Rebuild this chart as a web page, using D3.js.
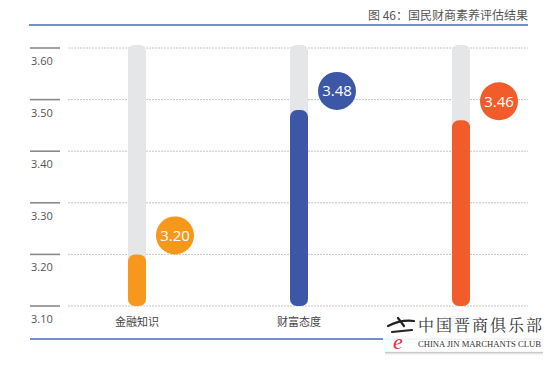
<!DOCTYPE html>
<html><head><meta charset="utf-8">
<script src="https://cdn.jsdelivr.net/npm/d3@7"></script>
<style>body{margin:0;background:#fff}svg{display:block}</style>
</head><body><svg id="c" width="553" height="366"></svg>
<script>
const categories = ["金融知识", "财富态度", "金融行为"];
const values = [3.20, 3.48, 3.46];
const colors = ["#F7981D", "#3B57A6", "#F25C2B"];
const tickValues = [3.10, 3.20, 3.30, 3.40, 3.50, 3.60];
const title = "图 46：国民财商素养评估结果";

const svg = d3.select("#c");
const cjk = "'Noto Sans CJK SC','Noto Sans',sans-serif";
const num = "'Open Sans','Noto Sans',sans-serif";

const y = d3.scaleLinear().domain([3.1, 3.6]).range([306, 48]);
const x = d3.scaleBand().domain(categories).range([56, 542]).padding(0);
const cx = c => x(c) + x.bandwidth() / 2;

// title + top rule
svg.append("text").attr("x", 528).attr("y", 20).attr("text-anchor", "end")
  .attr("font-family", cjk).attr("font-size", 12).attr("fill", "#555").text(title);
svg.append("line").attr("x1", 29).attr("x2", 528).attr("y1", 25).attr("y2", 25)
  .attr("stroke", "#4a68bd").attr("stroke-width", 1.5);

// grid
const g = svg.append("g");
g.selectAll(".tk").data(tickValues).join("line")
  .attr("x1", 30).attr("x2", 60).attr("y1", d => y(d)).attr("y2", d => y(d))
  .attr("stroke", "#8a8a8a").attr("stroke-width", 1.6);
g.selectAll(".gl").data(tickValues).join("line")
  .attr("x1", 68).attr("x2", 528).attr("y1", d => y(d)).attr("y2", d => y(d))
  .attr("stroke", "#c4c4c4").attr("stroke-width", 1).attr("stroke-dasharray", "2,1");
g.selectAll(".tl").data(tickValues).join("text")
  .attr("x", 31).attr("y", d => y(d) + 17)
  .attr("font-family", num).attr("font-size", 11).attr("fill", "#555")
  .text(d => d3.format(".2f")(d));

const bw = 18;
// tracks
svg.selectAll(".track").data(categories).join("rect")
  .attr("x", d => cx(d) - bw / 2).attr("width", bw)
  .attr("y", y(3.6) - 3).attr("height", y(3.1) - y(3.6) + 3)
  .attr("rx", 6).attr("fill", "#e5e6e8");
// bars
svg.selectAll(".bar").data(values).join("rect")
  .attr("x", (d, i) => cx(categories[i]) - bw / 2).attr("width", bw)
  .attr("y", d => y(d)).attr("height", d => y(3.1) - y(d))
  .attr("rx", 7).attr("fill", (d, i) => colors[i]);
// bubbles
svg.selectAll(".bub").data(values).join("circle")
  .attr("cx", (d, i) => cx(categories[i]) + 38).attr("cy", d => y(d) - 19)
  .attr("r", 19).attr("fill", (d, i) => colors[i]);
svg.selectAll(".bt").data(values).join("text")
  .attr("x", (d, i) => cx(categories[i]) + 38).attr("y", d => y(d) - 19)
  .attr("dy", "0.36em").attr("text-anchor", "middle")
  .attr("font-family", num).attr("font-size", 15).attr("fill", "#fff")
  .text(d => d3.format(".2f")(d));

// category labels
svg.selectAll(".cl").data(categories).join("text")
  .attr("x", d => cx(d)).attr("y", 326).attr("text-anchor", "middle")
  .attr("font-family", cjk).attr("font-size", 11).attr("fill", "#444").text(d => d);

// bottom rule
svg.append("line").attr("x1", 30).attr("x2", 543).attr("y1", 339).attr("y2", 339)
  .attr("stroke", "#4a68bd").attr("stroke-width", 1.5);

// watermark
const defs = svg.append("defs");
const gr = defs.append("linearGradient").attr("id", "sh").attr("x1", 0).attr("x2", 0).attr("y1", 0).attr("y2", 1);
gr.append("stop").attr("offset", "0%").attr("stop-color", "#666").attr("stop-opacity", 0.7);
gr.append("stop").attr("offset", "100%").attr("stop-color", "#fff").attr("stop-opacity", 0);
const wm = svg.append("g");
wm.append("rect").attr("x", 385).attr("y", 351).attr("width", 158).attr("height", 5).attr("fill", "url(#sh)");
wm.append("rect").attr("x", 383).attr("y", 314).attr("width", 160).attr("height", 38)
  .attr("fill", "#fff").attr("opacity", 0.9);
wm.append("text").attr("x", 418).attr("y", 331).attr("font-family", "'Noto Serif CJK SC','Noto Sans CJK SC',serif")
  .attr("font-size", 16).attr("fill", "#333").attr("textLength", 124).attr("lengthAdjust", "spacing").text("中国晋商俱乐部");
wm.append("text").attr("x", 418).attr("y", 347).attr("font-family", "'Liberation Serif',serif")
  .attr("font-size", 8.5).attr("fill", "#333").attr("textLength", 123).attr("lengthAdjust", "spacingAndGlyphs")
  .text("CHINA JIN MARCHANTS CLUB");
wm.append("path").attr("d", "M388,326 C396,322 406,320 414,321 M392,332 L412,330 M398,318 L404,326")
  .attr("stroke", "#222").attr("stroke-width", 2.2).attr("fill", "none").attr("stroke-linecap", "round");
wm.append("text").attr("x", 393).attr("y", 349).attr("font-family", "'Liberation Serif',serif")
  .attr("font-style", "italic").attr("font-size", 22).attr("fill", "#e0303a").text("e");
</script></body></html>
